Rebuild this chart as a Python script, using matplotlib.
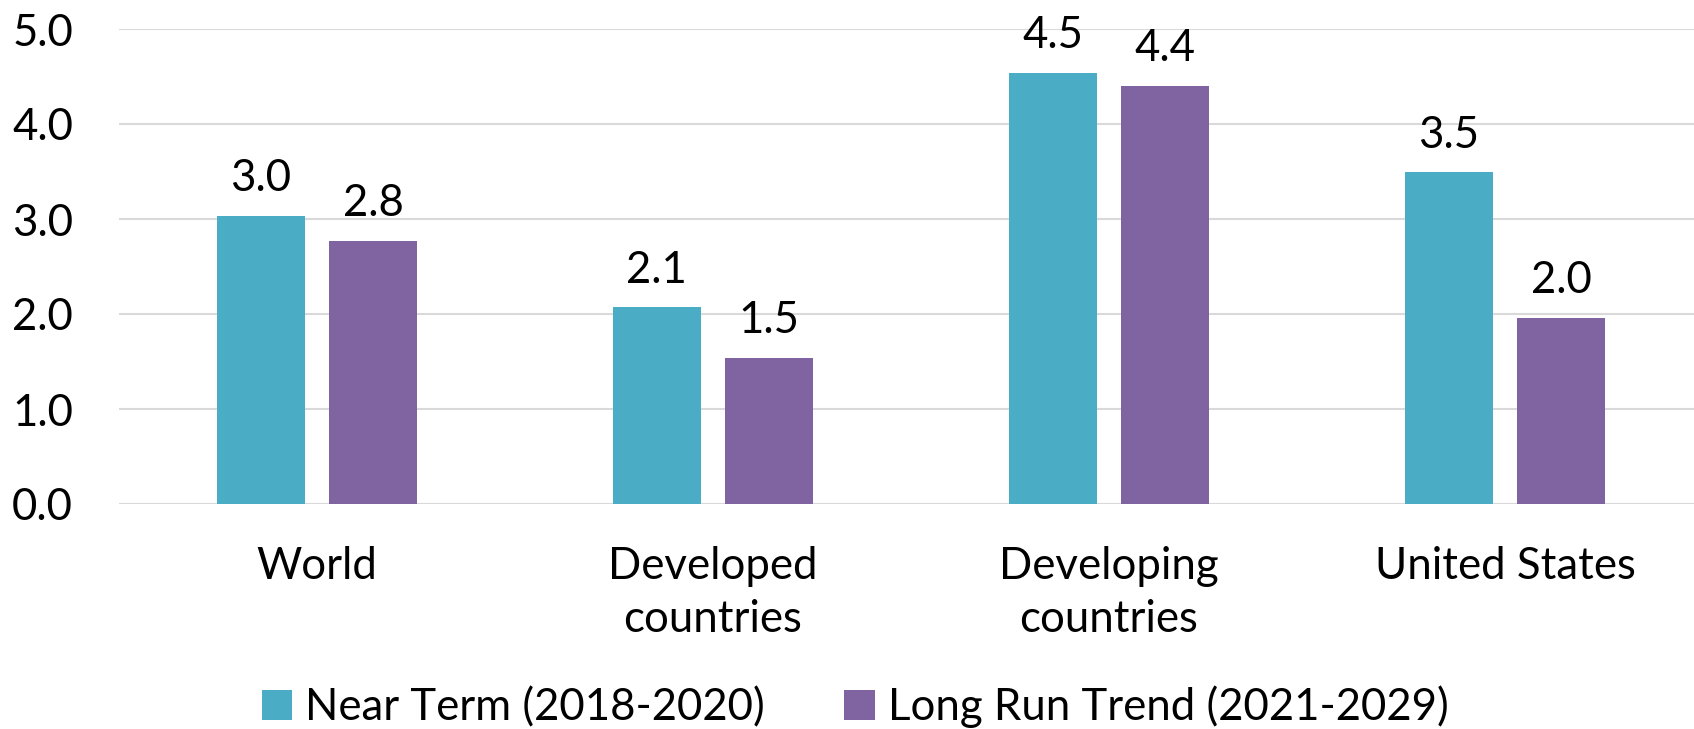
import numpy
import matplotlib.pyplot as plt

plt.rcParams['font.family'] = ['Lato', 'DejaVu Sans']

categories = ['World', 'Developed\ncountries', 'Developing\ncountries', 'United States']
near_term = [3.03, 2.07, 4.54, 3.49]
long_run = [2.77, 1.54, 4.40, 1.96]
series_names = ['Near Term (2018-2020)', 'Long Run Trend (2021-2029)']
yticks = [0.0, 1.0, 2.0, 3.0, 4.0, 5.0]

teal = '#4BACC6'
purple = '#8064A2'
fs = 31.5

fig = plt.figure(figsize=(16.94, 7.29), dpi=100)
ax = fig.add_axes([119 / 1694, 1 - 504 / 729, 1 - 119 / 1694, (504 - 29) / 729])

x = numpy.arange(len(categories))
width = 0.222
offset = 0.142
b1 = ax.bar(x - offset, near_term, width, color=teal, label=series_names[0], zorder=3)
b2 = ax.bar(x + offset, long_run, width, color=purple, label=series_names[1], zorder=3)

for bars in (b1, b2):
    for rect in bars:
        h = rect.get_height()
        ax.annotate(f'{h:.1f}', (rect.get_x() + rect.get_width() / 2, h),
                    xytext=(0, 12), textcoords='offset points',
                    ha='center', va='bottom', fontsize=fs)

ax.set_ylim(0, 5)
ax.set_xlim(-0.5, -0.5 + (1694 - 119) / 396)
ax.set_yticks(yticks)
ax.set_yticklabels([f'{v:.1f}' for v in yticks])
ax.set_xticks(x)
ax.set_xticklabels(categories, linespacing=1.38)
ax.tick_params(axis='y', length=0, pad=33, labelsize=fs)
ax.tick_params(axis='x', length=0, pad=30, labelsize=fs)
ax.grid(axis='y', color='#d9d9d9', linewidth=1.5, zorder=0)
for s in ax.spines.values():
    s.set_visible(False)

fig.legend(handles=[b1, b2], labels=series_names, loc='center',
           bbox_to_anchor=(855 / 1694, 1 - 707 / 729), ncol=2, frameon=False,
           fontsize=fs, handlelength=0.7, handleheight=0.7, handletextpad=0.3,
           columnspacing=1.8, borderpad=0)

fig.savefig('out.png', dpi=100)
